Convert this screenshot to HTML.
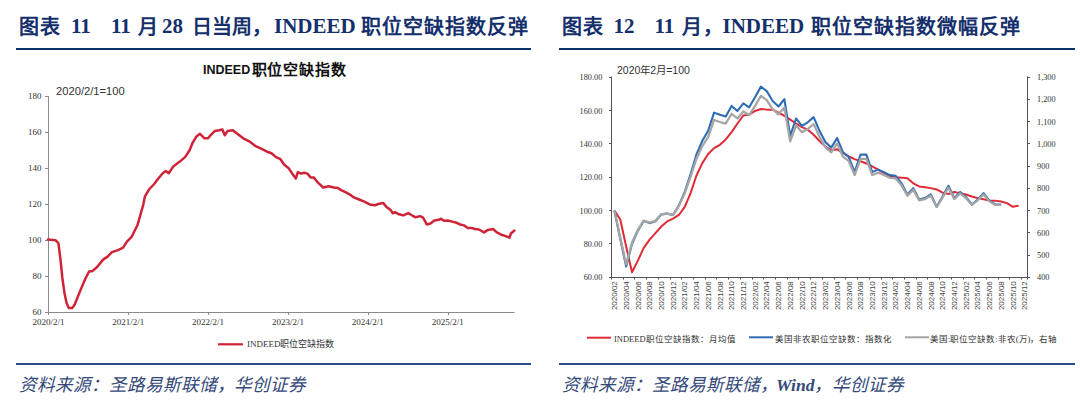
<!DOCTYPE html>
<html lang="zh-CN"><head><meta charset="utf-8">
<style>
html,body{margin:0;padding:0;background:#fff;}
body{width:1080px;height:403px;position:relative;overflow:hidden;font-family:"Liberation Serif",serif;}
.t{position:absolute;white-space:nowrap;color:#142f6c;font-weight:bold;font-size:20px;line-height:1;}
.c{font-size:20px;letter-spacing:1.05px;}
.l{font-size:21px;}
.s{position:absolute;white-space:nowrap;color:#34497a;font-style:italic;font-size:17.6px;line-height:1;}
.hl{position:absolute;height:2px;background:#0c2f6e;}
.bl{position:absolute;height:2px;background:#2a4c8a;}
svg{position:absolute;left:0;top:0;}
svg text{font-family:"Liberation Serif",serif;fill:#333;}
.ax{font-size:9px;}
.ax2{font-size:8.3px;}
.xl{font-family:"Liberation Sans",sans-serif !important;font-size:8px;fill:#444 !important;}
.ct{position:absolute;white-space:nowrap;color:#111;line-height:1;}
</style></head><body>
<div class="t c" style="left:19px;top:16.5px">图表</div>
<div class="t l" style="left:71px;top:16.1px">11</div>
<div class="t l" style="left:111px;top:16.1px">11</div>
<div class="t c" style="left:137.5px;top:16.5px">月</div>
<div class="t l" style="left:162px;top:16.1px">28</div>
<div class="t c" style="left:192px;top:16.5px;letter-spacing:0">日当周，</div>
<div class="t l" style="left:274px;top:16.1px">INDEED</div>
<div class="t c" style="left:361px;top:16.5px">职位空缺指数反弹</div>

<div class="t c" style="left:561.5px;top:16.5px">图表</div>
<div class="t l" style="left:613.5px;top:16.1px">12</div>
<div class="t l" style="left:654.5px;top:16.1px">11</div>
<div class="t c" style="left:682px;top:16.5px">月，</div>
<div class="t l" style="left:722.5px;top:16.1px">INDEED</div>
<div class="t c" style="left:810.5px;top:16.5px">职位空缺指数微幅反弹</div>

<div class="hl" style="left:16px;top:48px;width:515px"></div>
<div class="hl" style="left:559px;top:48px;width:516px"></div>
<div class="bl" style="left:16px;top:362.5px;width:515px"></div>
<div class="bl" style="left:559px;top:362.5px;width:516px"></div>

<div class="s" style="left:19px;top:376.5px">资料来源：圣路易斯联储，</div>
<div class="s" style="left:233.5px;top:376.5px">华创证券</div>
<div class="s" style="left:561.5px;top:376.5px">资料来源：圣路易斯联储，</div>
<div class="s" style="left:776px;top:376.5px;font-weight:bold">Wind</div>
<div class="s" style="left:813.5px;top:376.5px">，华创证券</div>

<div class="ct" style="left:203px;top:64px;font-family:'Liberation Sans',sans-serif;font-weight:bold;font-size:12.5px">INDEED</div>
<div class="ct" style="left:251.5px;top:63px;font-family:'Liberation Serif',serif;font-weight:bold;font-size:15px;letter-spacing:0.95px">职位空缺指数</div>
<div class="ct" style="left:56px;top:85.5px;font-family:'Liberation Sans',sans-serif;font-size:11.2px;color:#333">2020/2/1=100</div>
<div class="ct" style="left:617px;top:65px;font-family:'Liberation Sans',sans-serif;font-size:10.5px;color:#333">2020<span style="font-family:'Liberation Serif',serif">年</span>2<span style="font-family:'Liberation Serif',serif">月</span>=100</div>
<div class="ct" style="left:247px;top:340px;font-size:9px;color:#333">INDEED职位空缺指数</div>
<div class="ct" style="left:614px;top:334.6px;font-size:8.5px;color:#333">INDEED职位空缺指数：月均值</div>
<div class="ct" style="left:774.5px;top:334.6px;font-size:8.5px;color:#333">美国非农职位空缺数：指数化</div>
<div class="ct" style="left:930px;top:334.6px;font-size:8.5px;color:#333">美国:职位空缺数:非农(万)，右轴</div>

<svg width="1080" height="403" viewBox="0 0 1080 403">
<path d="M48.5 96V312.5H514.5" fill="none" stroke="#8a8a8a" stroke-width="1"/>
<path d="M45 312.5H48.5" stroke="#8a8a8a" stroke-width="1"/>
<text x="41.5" y="315.3" text-anchor="end" class="ax">60</text>
<path d="M45 276.5H48.5" stroke="#8a8a8a" stroke-width="1"/>
<text x="41.5" y="279.3" text-anchor="end" class="ax">80</text>
<path d="M45 240.5H48.5" stroke="#8a8a8a" stroke-width="1"/>
<text x="41.5" y="243.3" text-anchor="end" class="ax">100</text>
<path d="M45 204.5H48.5" stroke="#8a8a8a" stroke-width="1"/>
<text x="41.5" y="207.3" text-anchor="end" class="ax">120</text>
<path d="M45 168.5H48.5" stroke="#8a8a8a" stroke-width="1"/>
<text x="41.5" y="171.3" text-anchor="end" class="ax">140</text>
<path d="M45 132.5H48.5" stroke="#8a8a8a" stroke-width="1"/>
<text x="41.5" y="135.3" text-anchor="end" class="ax">160</text>
<path d="M45 96.5H48.5" stroke="#8a8a8a" stroke-width="1"/>
<text x="41.5" y="99.3" text-anchor="end" class="ax">180</text>
<path d="M48.5 312.5V315" stroke="#8a8a8a" stroke-width="1"/>
<text x="48.4" y="325" text-anchor="middle" class="ax">2020/2/1</text>
<path d="M128.5 312.5V315" stroke="#8a8a8a" stroke-width="1"/>
<text x="128.25" y="325" text-anchor="middle" class="ax">2021/2/1</text>
<path d="M208.5 312.5V315" stroke="#8a8a8a" stroke-width="1"/>
<text x="208.1" y="325" text-anchor="middle" class="ax">2022/2/1</text>
<path d="M288.5 312.5V315" stroke="#8a8a8a" stroke-width="1"/>
<text x="287.95" y="325" text-anchor="middle" class="ax">2023/2/1</text>
<path d="M368.5 312.5V315" stroke="#8a8a8a" stroke-width="1"/>
<text x="367.8" y="325" text-anchor="middle" class="ax">2024/2/1</text>
<path d="M448.5 312.5V315" stroke="#8a8a8a" stroke-width="1"/>
<text x="447.65" y="325" text-anchor="middle" class="ax">2025/2/1</text>
<polyline points="48,239.6 55.4,240.2 58.4,243.2 60.5,259.6 62.3,277.5 64.4,292.4 66.5,302.8 68.8,307.9 72.4,307.9 74.8,304.3 77.8,296.8 80.8,289.4 85.2,279 89.1,271.5 92.7,270.9 97.1,267 103.1,259.6 107.6,256.6 112,252.1 118,250.1 123.1,247.7 126.9,241.7 131.4,237.2 134.4,231.3 137.4,225.3 140.4,214.9 143.3,204.5 144.9,196.4 149.4,189 153.8,184.5 158.3,178.5 162.8,173.2 165.8,171.1 168.7,173.2 173.2,166.6 179.2,162.1 185.1,157.1 189.6,150.2 192.6,142.8 196.2,136.8 200,133.8 204.5,138.3 208.1,138.3 210.5,135.3 214.9,130.9 219.4,130.3 222.4,129.4 224.8,135.3 227.7,130.9 232.8,130.3 237.3,133.8 243.2,138.3 249.2,141.3 255.1,145.8 261.1,148.7 267.1,151.7 271.5,153.2 276,157.1 280.5,159.2 284.2,164.8 288.4,167.9 292.7,174.2 295.8,178.5 297.9,172.1 301.1,173.6 304.2,172.8 307.4,173.6 310.6,177.4 313.7,177.4 318,182.7 323.2,187.5 328.5,186.3 333.8,187.5 338,188 341.1,190.1 345.4,192.2 349.6,194.3 353.8,197.4 359.1,199.5 364.3,201.7 369.6,204.4 374.9,205.2 379.1,203.8 383.3,203.1 386.5,206.9 390.7,210.1 392.8,213.3 394.9,212.2 399.1,214.3 403.3,215.4 408.2,213.1 411.9,215.3 415.6,217.3 420.1,216.1 423.1,217.6 426.8,224.5 430.5,223.5 434.3,220.5 438.7,219.8 441,218.7 443.9,220.8 447.7,220.5 452.1,221.6 456.6,222.8 460.3,224.5 464,225.4 467.8,228 471.5,228 475.2,229 478.9,229.5 484.1,232.4 487.9,229.9 493.1,229 496.8,232.4 501.3,234.7 505,235.9 509.5,237.7 510.9,233.5 514.4,230.5" fill="none" stroke="#cf2438" stroke-width="2.5" stroke-linejoin="round" stroke-linecap="round"/>
<path d="M218 344.3H243" stroke="#cf2438" stroke-width="2.2"/>
<path d="M611.5 76.5V277.5H1027.5V76.5" fill="none" stroke="#555" stroke-width="1"/>
<path d="M609 277.5H611.5" stroke="#555" stroke-width="1"/>
<text x="602.4" y="280.2" text-anchor="end" class="ax2">60.00</text>
<path d="M609 243.5H611.5" stroke="#555" stroke-width="1"/>
<text x="602.4" y="246.87" text-anchor="end" class="ax2">80.00</text>
<path d="M609 210.5H611.5" stroke="#555" stroke-width="1"/>
<text x="602.4" y="213.53" text-anchor="end" class="ax2">100.00</text>
<path d="M609 177.5H611.5" stroke="#555" stroke-width="1"/>
<text x="602.4" y="180.2" text-anchor="end" class="ax2">120.00</text>
<path d="M609 143.5H611.5" stroke="#555" stroke-width="1"/>
<text x="602.4" y="146.87" text-anchor="end" class="ax2">140.00</text>
<path d="M609 110.5H611.5" stroke="#555" stroke-width="1"/>
<text x="602.4" y="113.53" text-anchor="end" class="ax2">160.00</text>
<path d="M609 77.5H611.5" stroke="#555" stroke-width="1"/>
<text x="602.4" y="80.2" text-anchor="end" class="ax2">180.00</text>
<path d="M1027.5 277.5H1030" stroke="#555" stroke-width="1"/>
<text x="1037" y="280.2" class="ax2">400</text>
<path d="M1027.5 255.5H1030" stroke="#555" stroke-width="1"/>
<text x="1037" y="257.98" class="ax2">500</text>
<path d="M1027.5 232.5H1030" stroke="#555" stroke-width="1"/>
<text x="1037" y="235.76" class="ax2">600</text>
<path d="M1027.5 210.5H1030" stroke="#555" stroke-width="1"/>
<text x="1037" y="213.53" class="ax2">700</text>
<path d="M1027.5 188.5H1030" stroke="#555" stroke-width="1"/>
<text x="1037" y="191.31" class="ax2">800</text>
<path d="M1027.5 166.5H1030" stroke="#555" stroke-width="1"/>
<text x="1037" y="169.09" class="ax2">900</text>
<path d="M1027.5 143.5H1030" stroke="#555" stroke-width="1"/>
<text x="1037" y="146.87" class="ax2">1,000</text>
<path d="M1027.5 121.5H1030" stroke="#555" stroke-width="1"/>
<text x="1037" y="124.64" class="ax2">1,100</text>
<path d="M1027.5 99.5H1030" stroke="#555" stroke-width="1"/>
<text x="1037" y="102.42" class="ax2">1,200</text>
<path d="M1027.5 77.5H1030" stroke="#555" stroke-width="1"/>
<text x="1037" y="80.2" class="ax2">1,300</text>
<path d="M611.5 277.5V279.5" stroke="#555" stroke-width="1"/>
<path d="M623.5 277.5V279.5" stroke="#555" stroke-width="1"/>
<path d="M634.5 277.5V279.5" stroke="#555" stroke-width="1"/>
<path d="M646.5 277.5V279.5" stroke="#555" stroke-width="1"/>
<path d="M658.5 277.5V279.5" stroke="#555" stroke-width="1"/>
<path d="M670.5 277.5V279.5" stroke="#555" stroke-width="1"/>
<path d="M681.5 277.5V279.5" stroke="#555" stroke-width="1"/>
<path d="M693.5 277.5V279.5" stroke="#555" stroke-width="1"/>
<path d="M705.5 277.5V279.5" stroke="#555" stroke-width="1"/>
<path d="M716.5 277.5V279.5" stroke="#555" stroke-width="1"/>
<path d="M728.5 277.5V279.5" stroke="#555" stroke-width="1"/>
<path d="M740.5 277.5V279.5" stroke="#555" stroke-width="1"/>
<path d="M752.5 277.5V279.5" stroke="#555" stroke-width="1"/>
<path d="M763.5 277.5V279.5" stroke="#555" stroke-width="1"/>
<path d="M775.5 277.5V279.5" stroke="#555" stroke-width="1"/>
<path d="M787.5 277.5V279.5" stroke="#555" stroke-width="1"/>
<path d="M798.5 277.5V279.5" stroke="#555" stroke-width="1"/>
<path d="M810.5 277.5V279.5" stroke="#555" stroke-width="1"/>
<path d="M822.5 277.5V279.5" stroke="#555" stroke-width="1"/>
<path d="M834.5 277.5V279.5" stroke="#555" stroke-width="1"/>
<path d="M845.5 277.5V279.5" stroke="#555" stroke-width="1"/>
<path d="M857.5 277.5V279.5" stroke="#555" stroke-width="1"/>
<path d="M869.5 277.5V279.5" stroke="#555" stroke-width="1"/>
<path d="M881.5 277.5V279.5" stroke="#555" stroke-width="1"/>
<path d="M892.5 277.5V279.5" stroke="#555" stroke-width="1"/>
<path d="M904.5 277.5V279.5" stroke="#555" stroke-width="1"/>
<path d="M916.5 277.5V279.5" stroke="#555" stroke-width="1"/>
<path d="M927.5 277.5V279.5" stroke="#555" stroke-width="1"/>
<path d="M939.5 277.5V279.5" stroke="#555" stroke-width="1"/>
<path d="M951.5 277.5V279.5" stroke="#555" stroke-width="1"/>
<path d="M963.5 277.5V279.5" stroke="#555" stroke-width="1"/>
<path d="M974.5 277.5V279.5" stroke="#555" stroke-width="1"/>
<path d="M986.5 277.5V279.5" stroke="#555" stroke-width="1"/>
<path d="M998.5 277.5V279.5" stroke="#555" stroke-width="1"/>
<path d="M1009.5 277.5V279.5" stroke="#555" stroke-width="1"/>
<path d="M1021.5 277.5V279.5" stroke="#555" stroke-width="1"/>
<path d="M1027.5 277.5V279.5" stroke="#555" stroke-width="1"/>
<text transform="translate(617.13 281.2) rotate(-90)" text-anchor="end" class="xl">2020/02</text>
<text transform="translate(628.85 281.2) rotate(-90)" text-anchor="end" class="xl">2020/04</text>
<text transform="translate(640.57 281.2) rotate(-90)" text-anchor="end" class="xl">2020/06</text>
<text transform="translate(652.28 281.2) rotate(-90)" text-anchor="end" class="xl">2020/08</text>
<text transform="translate(664 281.2) rotate(-90)" text-anchor="end" class="xl">2020/10</text>
<text transform="translate(675.72 281.2) rotate(-90)" text-anchor="end" class="xl">2020/12</text>
<text transform="translate(687.44 281.2) rotate(-90)" text-anchor="end" class="xl">2021/02</text>
<text transform="translate(699.16 281.2) rotate(-90)" text-anchor="end" class="xl">2021/04</text>
<text transform="translate(710.88 281.2) rotate(-90)" text-anchor="end" class="xl">2021/06</text>
<text transform="translate(722.59 281.2) rotate(-90)" text-anchor="end" class="xl">2021/08</text>
<text transform="translate(734.31 281.2) rotate(-90)" text-anchor="end" class="xl">2021/10</text>
<text transform="translate(746.03 281.2) rotate(-90)" text-anchor="end" class="xl">2021/12</text>
<text transform="translate(757.75 281.2) rotate(-90)" text-anchor="end" class="xl">2022/02</text>
<text transform="translate(769.47 281.2) rotate(-90)" text-anchor="end" class="xl">2022/04</text>
<text transform="translate(781.19 281.2) rotate(-90)" text-anchor="end" class="xl">2022/06</text>
<text transform="translate(792.9 281.2) rotate(-90)" text-anchor="end" class="xl">2022/08</text>
<text transform="translate(804.62 281.2) rotate(-90)" text-anchor="end" class="xl">2022/10</text>
<text transform="translate(816.34 281.2) rotate(-90)" text-anchor="end" class="xl">2022/12</text>
<text transform="translate(828.06 281.2) rotate(-90)" text-anchor="end" class="xl">2023/02</text>
<text transform="translate(839.78 281.2) rotate(-90)" text-anchor="end" class="xl">2023/04</text>
<text transform="translate(851.5 281.2) rotate(-90)" text-anchor="end" class="xl">2023/06</text>
<text transform="translate(863.21 281.2) rotate(-90)" text-anchor="end" class="xl">2023/08</text>
<text transform="translate(874.93 281.2) rotate(-90)" text-anchor="end" class="xl">2023/10</text>
<text transform="translate(886.65 281.2) rotate(-90)" text-anchor="end" class="xl">2023/12</text>
<text transform="translate(898.37 281.2) rotate(-90)" text-anchor="end" class="xl">2024/02</text>
<text transform="translate(910.09 281.2) rotate(-90)" text-anchor="end" class="xl">2024/04</text>
<text transform="translate(921.81 281.2) rotate(-90)" text-anchor="end" class="xl">2024/06</text>
<text transform="translate(933.52 281.2) rotate(-90)" text-anchor="end" class="xl">2024/08</text>
<text transform="translate(945.24 281.2) rotate(-90)" text-anchor="end" class="xl">2024/10</text>
<text transform="translate(956.96 281.2) rotate(-90)" text-anchor="end" class="xl">2024/12</text>
<text transform="translate(968.68 281.2) rotate(-90)" text-anchor="end" class="xl">2025/02</text>
<text transform="translate(980.4 281.2) rotate(-90)" text-anchor="end" class="xl">2025/04</text>
<text transform="translate(992.12 281.2) rotate(-90)" text-anchor="end" class="xl">2025/06</text>
<text transform="translate(1003.83 281.2) rotate(-90)" text-anchor="end" class="xl">2025/08</text>
<text transform="translate(1015.55 281.2) rotate(-90)" text-anchor="end" class="xl">2025/10</text>
<text transform="translate(1027.27 281.2) rotate(-90)" text-anchor="end" class="xl">2025/12</text>
<polyline points="614.43,210.63 620.29,219.47 626.15,246.47 632.01,272.3 637.87,260.63 643.73,247.8 649.58,239.63 655.44,233.13 661.3,226.47 667.16,221.47 673.02,218.63 678.88,214.97 684.74,206.8 690.6,193.13 696.46,175.47 702.32,163.13 708.18,153.97 714.04,148.13 719.89,144.8 725.75,139.47 731.61,132.13 737.47,123.47 743.33,115.47 749.19,114.63 755.05,110.97 760.91,108.97 766.77,109.63 772.63,109.63 778.49,112.63 784.35,115.97 790.2,119.63 796.06,123.47 801.92,127.13 807.78,129.63 813.64,134.8 819.5,140.97 825.36,146.47 831.22,150.3 837.08,149.3 842.94,152.97 848.8,156.47 854.65,159.13 860.51,161.3 866.37,163.47 872.23,166.47 878.09,169.63 883.95,173.13 889.81,176.63 895.67,177.3 901.53,177.63 907.39,178.3 913.25,183.3 919.11,186.47 924.96,187.3 930.82,188.13 936.68,189.47 942.54,192.63 948.4,193.97 954.26,191.97 960.12,193.13 965.98,194.47 971.84,196.47 977.7,198.13 983.56,199.3 989.42,200.63 995.27,200.63 1001.13,201.47 1006.99,203.13 1012.85,206.8 1018.71,205.63" fill="none" stroke="#e02a36" stroke-width="2" stroke-linejoin="round"/>
<polyline points="614.43,210.63 620.29,238.97 626.15,266.47 632.01,243.97 637.87,230.63 643.73,220.97 649.58,223.13 655.44,221.3 661.3,214.47 667.16,213.63 673.02,214.97 678.88,205.47 684.74,191.8 690.6,173.97 696.46,154.47 702.32,140.8 708.18,130.8 714.04,112.63 719.89,114.8 725.75,116.47 731.61,105.97 737.47,110.97 743.33,103.47 749.19,107.3 755.05,97.3 760.91,86.63 766.77,91.13 772.63,100.97 778.49,106.47 784.35,99.13 790.2,135.8 796.06,118.47 801.92,125.97 807.78,122.3 813.64,117.13 819.5,130.8 825.36,141.97 831.22,147.63 837.08,137.97 842.94,152.3 848.8,157.13 854.65,172.13 860.51,154.63 866.37,154.63 872.23,172.13 878.09,169.63 883.95,172.13 889.81,175.13 895.67,175.8 901.53,183.3 907.39,194.47 913.25,188.13 919.11,199.47 924.96,198.13 930.82,194.47 936.68,206.8 942.54,196.47 948.4,185.8 954.26,198.13 960.12,191.97 965.98,196.97 971.84,204.47 977.7,199.47 983.56,193.13 989.42,200.63 995.27,204.47 1001.13,204.47" fill="none" stroke="#2e6db5" stroke-width="2.1" stroke-linejoin="round"/>
<polyline points="614.43,210.63 620.29,237.83 626.15,264.23 632.01,242.63 637.87,229.83 643.73,220.55 649.58,222.63 655.44,220.87 661.3,214.31 667.16,213.51 673.02,214.79 678.88,205.85 684.74,193.21 690.6,176.71 696.46,158.68 702.32,146.03 708.18,136.78 714.04,119.98 719.89,121.99 725.75,123.53 731.61,113.81 737.47,118.44 743.33,111.5 749.19,115.05 755.05,105.8 760.91,95.93 766.77,100.09 772.63,109.19 778.49,114.28 784.35,107.49 790.2,141.41 796.06,125.38 801.92,132.31 807.78,128.92 813.64,124.14 819.5,136.78 825.36,147.11 831.22,152.36 837.08,143.41 842.94,156.67 848.8,161.14 854.65,175.02 860.51,158.83 866.37,158.83 872.23,175.02 878.09,172.71 883.95,175.02 889.81,177.79 895.67,178.41 901.53,185.35 907.39,195.68 913.25,189.82 919.11,200.3 924.96,199.07 930.82,195.68 936.68,207.09 942.54,197.53 948.4,187.66 954.26,199.07 960.12,193.36 965.98,197.99 971.84,204.93 977.7,200.3 983.56,194.44 989.42,201.38 995.27,204.93 1001.13,204.93" fill="none" stroke="#a5a5a5" stroke-width="2.3" stroke-linejoin="round"/>
<path d="M587 337.7H611" stroke="#e02a36" stroke-width="2"/>
<path d="M749 337.3H773" stroke="#2e6db5" stroke-width="2"/>
<path d="M905 337.3H929" stroke="#a3a3a3" stroke-width="2"/>
</svg>
</body></html>
